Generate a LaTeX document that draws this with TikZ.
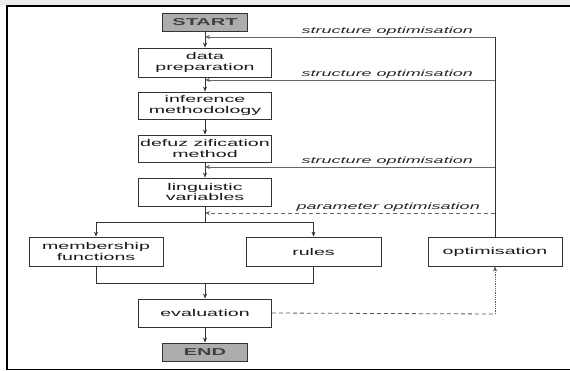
\documentclass[tikz,border=0pt]{standalone}
\usepackage{fontspec}
\setmainfont{Liberation Sans}[FakeStretch=2.0]
\usetikzlibrary{arrows.meta}
\begin{document}
\begin{tikzpicture}[x=1pt,y=-1pt,
  every node/.style={font=\fontsize{9.8}{10.8}\selectfont, text=black!90},
  box/.style={draw=black!80, line width=0.8pt, fill=white, minimum width=133pt, minimum height=28pt, align=center, inner sep=1pt},
  term/.style={draw=black!80, line width=0.8pt, fill=black!32, minimum width=85pt, minimum height=18.5pt, font=\fontsize{10}{11}\selectfont\bfseries, text=black!75, inner sep=1pt},
  ln/.style={draw=black!80, line width=0.8pt},
  arr/.style={ln, -{Stealth[length=5pt,width=4pt]}},
  fb/.style={draw=black!60, line width=0.8pt, -{Stealth[length=5pt,width=4pt]}},
  lab/.style={font=\fontsize{9}{10}\selectfont\itshape, text=black!85, inner sep=0pt}]
\useasboundingbox (0,0) rectangle (570,371);
\fill[black!7] (0,0) rectangle (570,5);
\draw[line width=1.8pt] (580,6) -- (7,6) -- (7,369.5) -- (580,369.5);

\node[term] (start) at (205,22.5) {START};
\node[box, minimum height=29pt] (data) at (205,62.5) {data\\preparation};
\node[box, minimum height=27pt] (infer) at (205,105.5) {inference\\methodology};
\node[box, minimum height=27pt] (defuzz) at (205,148.5) {defuz zification\\method};
\node[box] (ling) at (205,192) {linguistic\\variables};
\node[box, minimum width=134pt, minimum height=29pt] (member) at (96,251.5) {membership\\functions};
\node[box, minimum width=135pt, minimum height=29pt] (rules) at (313.5,251.5) {rules};
\node[box, minimum width=134pt, minimum height=29pt] (optim) at (495,251.5) {optimisation};
\node[box] (eval) at (205,313) {evaluation};
\node[term, minimum height=18pt] (end) at (205,352) {END};

\draw[arr] (start) -- (data);
\draw[arr] (data) -- (infer);
\draw[arr] (infer) -- (defuzz);
\draw[arr] (defuzz) -- (ling);

\coordinate (s1) at (205,37);
\coordinate (s2) at (205,80);
\coordinate (s3) at (205,167);
\coordinate (v2) at (495,80);
\coordinate (v3) at (495,167);
\draw[ln] (optim.north) -- (495,37);
\draw[fb] (495,37) -- (s1);
\draw[fb] (v2) -- (s2);
\draw[fb] (v3) -- (s3);
\node[lab, anchor=base east] (l1) at (473,34) {structure optimisation};
\node[lab, anchor=base east] (l2) at (473,77) {structure optimisation};
\node[lab, anchor=base east] (l3) at (473,164) {structure optimisation};

\coordinate (p1) at (495,213);
\coordinate (p2) at (205,213);
\draw[fb, dash pattern=on 4pt off 3pt] (p1) -- (p2);
\node[lab, anchor=base east] (l4) at (480,210) {parameter optimisation};

\coordinate (split) at (205,222);
\draw[ln] (ling.south) -- (split);
\draw[arr] (split) -| (member.north);
\draw[arr] (split) -| (rules.north);

\coordinate (merge) at (205,283);
\draw[ln] (member.south) |- (merge);
\draw[ln] (rules.south) |- (merge);
\draw[arr] (merge) -- (eval.north);
\draw[arr] (eval) -- (end);

\coordinate (c) at (495,314);
\draw[draw=black!65, line width=0.8pt, dash pattern=on 4pt off 3pt] (eval.east) -- (c);
\draw[draw=black!65, line width=0.8pt, densely dotted, -{Stealth[length=5pt,width=4pt]}] (c) -- (optim.south);
\end{tikzpicture}
\end{document}
